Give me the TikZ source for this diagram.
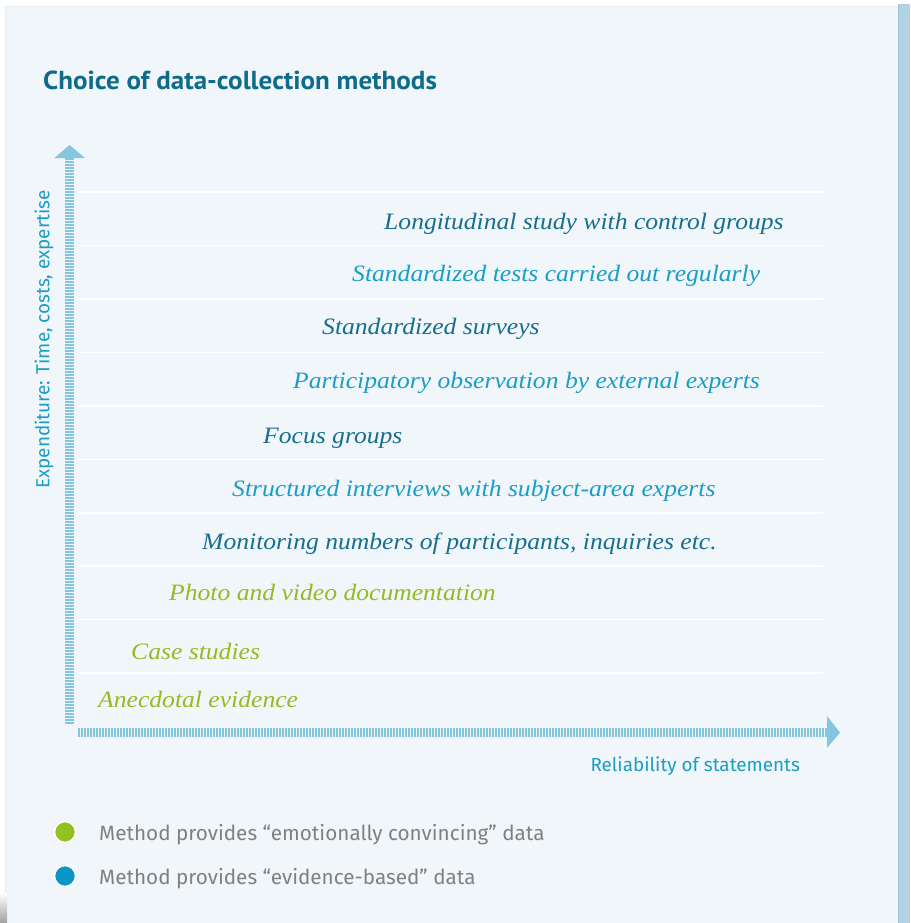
\documentclass[tikz,border=0pt]{standalone}
\usepackage{fontspec}
\newfontfamily\titlefont[FakeStretch=1.04]{PT Sans}
\newfontfamily\labelfont{Fira Sans}
\newfontfamily\methfont[FakeStretch=1.09]{Liberation Serif}
\definecolor{panel}{HTML}{F1F6FA}
\definecolor{strip}{HTML}{B1D1E4}
\definecolor{stripedge}{HTML}{9CC3DA}
\definecolor{axisblue}{HTML}{84C5E0}
\definecolor{titleteal}{HTML}{0E6B8A}
\definecolor{darkteal}{HTML}{176E8E}
\definecolor{lightblue}{HTML}{1A9DC6}
\definecolor{methgreen}{HTML}{93BC22}
\definecolor{legendgray}{HTML}{808080}
\definecolor{dotgreen}{HTML}{95C11F}
\definecolor{dotblue}{HTML}{0A96C6}
\tikzset{
  meth/.style={anchor=base west, inner sep=0pt, font=\methfont\itshape\fontsize{23.5}{26}\selectfont},
  evid/.style={meth, text=darkteal},
  evidl/.style={meth, text=lightblue},
  emot/.style={meth, text=methgreen},
  gridline/.style={draw=white, line width=1.6pt},
  axisstripe/.style={draw=axisblue, line width=9pt, dash pattern=on 1.6pt off 1.4pt},
  axishead/.style={fill=axisblue, draw=none},
  axislabel/.style={text=lightblue, inner sep=0pt, font=\labelfont\fontsize{18.9}{22}\selectfont},
  legendtext/.style={anchor=base west, inner sep=0pt, text=legendgray, font=\labelfont\fontsize{20.7}{24}\selectfont},
  legenddot/.style={circle, minimum size=21pt, inner sep=0pt, draw=white, line width=1.5pt}
}
\begin{document}
\begin{tikzpicture}[x=1pt, y=-1pt]
\useasboundingbox (0,0) rectangle (910,923);
% background
\fill[white] (0,0) rectangle (910,923);
\fill[panel] (5,6) rectangle (898,923);
\draw[draw=white!85!gray, line width=0.8pt] (5.4,923) -- (5.4,6.4) -- (898,6.4);
\fill[strip] (898,4) rectangle (910,923);
\draw[stripedge, line width=1pt] (898,4) -- (898,923);
\shade[top color=white, bottom color=gray!75] (0,893) rectangle (7,923);

% title
\node[anchor=base west, inner sep=0pt, text=titleteal, font=\titlefont\bfseries\fontsize{26}{30}\selectfont] (title) at (43,90) {Choice of data-collection methods};

% grid lines
\foreach \yy in {192,245.5,299,352.5,406,459.5,513,566,619.5,673}{
  \draw[gridline] (78,\yy) -- (823,\yy);
}

% axes
\coordinate (yaxisbottom) at (69.5,724);
\coordinate (yaxistop) at (69.5,158);
\coordinate (xaxisleft) at (78,732.5);
\coordinate (xaxisright) at (827,732.5);
\draw[axisstripe] (yaxisbottom) -- (yaxistop);
\draw[axisstripe] (xaxisleft) -- (xaxisright);
\fill[axishead] (54.5,158) -- (69.5,145) -- (85,158) -- cycle;
\fill[axishead] (827,716) -- (840,732.5) -- (827,748) -- cycle;

\node[axislabel, rotate=90, anchor=west] (ylabel) at (44,489) {Expenditure: Time, costs, expertise};
\node[axislabel, anchor=base east] (xlabel) at (800,771) {Reliability of statements};

% methods
\node[evid]  (m1)  at (384,229) {Longitudinal study with control groups};
\node[evidl] (m2)  at (352,281) {Standardized tests carried out regularly};
\node[evid]  (m3)  at (322,334) {Standardized surveys};
\node[evidl] (m4)  at (293,388) {Participatory observation by external experts};
\node[evid]  (m5)  at (263,443) {Focus groups};
\node[evidl] (m6)  at (232,496) {Structured interviews with subject-area experts};
\node[evid]  (m7)  at (202,549) {Monitoring numbers of participants, inquiries etc.};
\node[emot]  (m8)  at (169,600) {Photo and video documentation};
\node[emot]  (m9)  at (131,659) {Case studies};
\node[emot]  (m10) at (98,707)  {Anecdotal evidence};

% legend
\node[legenddot, fill=dotgreen] (dotg) at (65,832) {};
\node[legenddot, fill=dotblue]  (dotb) at (65,876) {};
\node[legendtext] (legg) at (99,840) {Method provides “emotionally convincing” data};
\node[legendtext] (legb) at (99,884) {Method provides “evidence-based” data};
\end{tikzpicture}
\end{document}
